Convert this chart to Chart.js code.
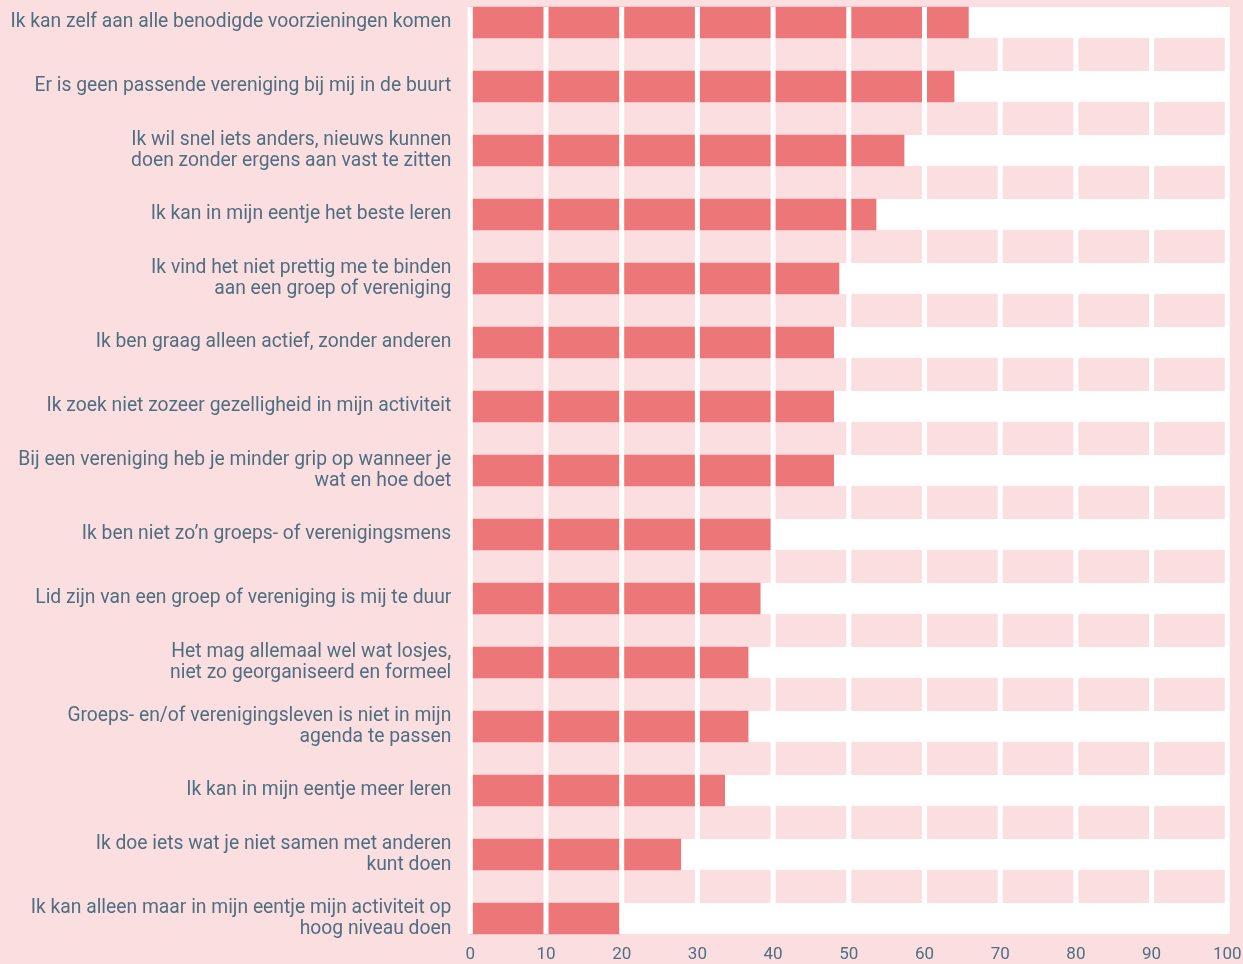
<!DOCTYPE html>
<html>
<head>
<meta charset="utf-8">
<script src="https://cdn.jsdelivr.net/npm/chart.js@4.4.1/dist/chart.umd.min.js"></script>
<style>
  html, body { margin: 0; padding: 0; background: #fbdfe0; }
  #wrap { width: 1243px; height: 964px; position: relative; }
</style>
</head>
<body>
<div id="wrap"><canvas id="c"></canvas></div>
<script>
// categories (multi-line labels as arrays)
const labels = [
  'Ik kan zelf aan alle benodigde voorzieningen komen',
  'Er is geen passende vereniging bij mij in de buurt',
  ['Ik wil snel iets anders, nieuws kunnen', 'doen zonder ergens aan vast te zitten'],
  'Ik kan in mijn eentje het beste leren',
  ['Ik vind het niet prettig me te binden', 'aan een groep of vereniging'],
  'Ik ben graag alleen actief, zonder anderen',
  'Ik zoek niet zozeer gezelligheid in mijn activiteit',
  ['Bij een vereniging heb je minder grip op wanneer je', 'wat en hoe doet'],
  'Ik ben niet zo\u2019n groeps- of verenigingsmens',
  'Lid zijn van een groep of vereniging is mij te duur',
  ['Het mag allemaal wel wat losjes,', 'niet zo georganiseerd en formeel'],
  ['Groeps- en/of verenigingsleven is niet in mijn', 'agenda te passen'],
  'Ik kan in mijn eentje meer leren',
  ['Ik doe iets wat je niet samen met anderen', 'kunt doen'],
  ['Ik kan alleen maar in mijn eentje mijn activiteit op', 'hoog niveau doen']
];
const values = [65.8, 63.9, 57.3, 53.6, 48.7, 48.0, 48.0, 48.0, 39.8, 38.3, 36.7, 36.7, 33.6, 27.8, 19.8];
const xTicks = [0, 10, 20, 30, 40, 50, 60, 70, 80, 90, 100];

const BAR = '#ed7679';
const BAND = '#fbdfe0';
const TEXT = '#4f6e80';
const BAR_H = 31;

// white plot box, pink bands between rows, white grid lines over the bars
const stripes = {
  id: 'stripes',
  beforeDatasetsDraw(chart) {
    const { ctx, scales: { x, y } } = chart;
    const x0 = x.getPixelForValue(0) - 2.5, x1 = x.getPixelForValue(100) + 2.5;
    const top = y.getPixelForValue(0) - BAR_H / 2;
    const bot = y.getPixelForValue(labels.length - 1) + BAR_H / 2;
    ctx.save();
    ctx.fillStyle = '#ffffff';
    ctx.fillRect(x0, top, x1 - x0, bot - top);
    ctx.fillStyle = BAND;
    for (let i = 0; i < labels.length - 1; i++) {
      const a = y.getPixelForValue(i) + BAR_H / 2;
      const b = y.getPixelForValue(i + 1) - BAR_H / 2;
      ctx.fillRect(x0, a, x1 - x0, b - a);
    }
    ctx.restore();
  },
  afterDatasetsDraw(chart) {
    const { ctx, scales: { x, y } } = chart;
    const top = y.getPixelForValue(0) - BAR_H / 2;
    const bot = y.getPixelForValue(labels.length - 1) + BAR_H / 2;
    ctx.save();
    ctx.fillStyle = '#ffffff';
    xTicks.forEach(v => {
      const px = x.getPixelForValue(v);
      ctx.fillRect(px - 2.5, top, 5, bot - top);
    });
    ctx.restore();
  }
};

new Chart(document.getElementById('c'), {
  type: 'bar',
  data: {
    labels: labels,
    datasets: [{
      data: values,
      backgroundColor: BAR,
      barThickness: BAR_H,
      borderWidth: 0,
      clip: false
    }]
  },
  options: {
    indexAxis: 'y',
    responsive: true,
    maintainAspectRatio: false,
    animation: false,
    layout: { padding: { top: 22.5, right: 15.7, bottom: 0, left: 0 } },
    plugins: { legend: { display: false }, tooltip: { enabled: false } },
    scales: {
      x: {
        min: 0, max: 100,
        grid: { display: false, drawTicks: false },
        border: { display: false },
        ticks: {
          stepSize: 10,
          color: TEXT,
          padding: 26,
          font: { family: 'Roboto', size: 17 }
        },
        afterFit(s) { s.height = 45.5; s.paddingLeft = 0; s.paddingRight = 0; }
      },
      y: {
        offset: false,
        grid: { display: false, drawTicks: false },
        border: { display: false },
        ticks: {
          color: TEXT,
          padding: 19,
          font: { family: 'Roboto', size: 19.3, lineHeight: 1.1 }
        },
        afterFit(s) { s.width = 470.3; s.paddingTop = 0; s.paddingBottom = 0; }
      }
    }
  },
  plugins: [stripes]
});
</script>
</body>
</html>
